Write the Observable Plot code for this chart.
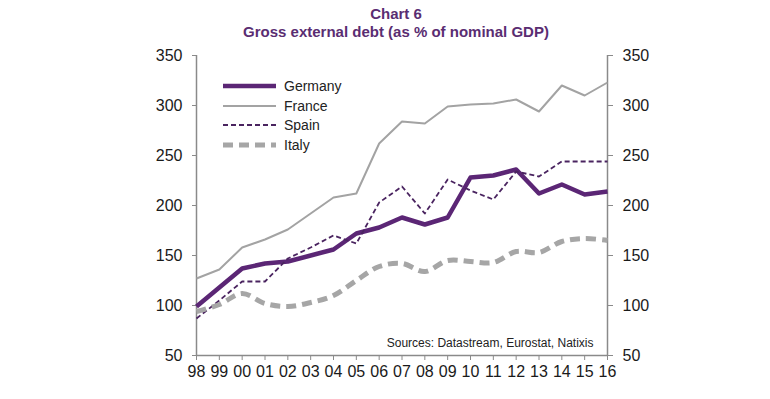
<!DOCTYPE html>
<html>
<head>
<meta charset="utf-8">
<script src="https://cdn.jsdelivr.net/npm/d3@7"></script>
<script src="https://cdn.jsdelivr.net/npm/@observablehq/plot@0.6"></script>
<style>
  html, body { margin: 0; padding: 0; background: #fff; }
  #wrap { position: relative; width: 770px; height: 399px; font-family: "Liberation Sans", Arial, sans-serif; }
  #title { position: absolute; left: 0; width: 792px; top: 5px; text-align: center; color: #5a2d72; font-weight: bold; font-size: 15px; line-height: 18px; }
  #legend { position: absolute; left: 223px; top: 76px; }
  .li { display: flex; align-items: center; height: 19.7px; font-size: 14px; color: #222; }
  .li svg { margin-right: 8px; }
  #chart { position: absolute; left: 0; top: 0; }
</style>
</head>
<body>
<div id="wrap">
  <div id="chart"></div>
  <div id="title">Chart 6<br>Gross external debt (as % of nominal GDP)</div>
  <div id="legend"></div>
</div>
<script>
const years = ["98","99","00","01","02","03","04","05","06","07","08","09","10","11","12","13","14","15","16"];
const germany = [99,118,137,142,144,150,156,172,178,188,181,188,228,230,236,212,221,211,214];
const france  = [127,136,158,166,176,192,208,212,262,284,282,299,301,302,306,294,320,310,323];
const spain   = [87,105,124,124,147,158,170,162,203,219,192,226,215,206,234,229,244,244,244];
const italy   = [94,101,112,102,99,103,110,125,139,142,134,145,144,143,154,153,164,167,165];
const yTicks = [50,100,150,200,250,300,350];
const seriesNames = ["Germany","France","Spain","Italy"];
const sourceText = "Sources: Datastream, Eurostat, Natixis";

const styles = {
  Germany: {stroke: "#5b2675", strokeWidth: 4.5, dash: null, curve: "linear"},
  France:  {stroke: "#a3a3a3", strokeWidth: 2, dash: null, curve: "linear"},
  Spain:   {stroke: "#4a2460", strokeWidth: 1.8, dash: "5,3", curve: "linear"},
  Italy:   {stroke: "#a6a6a6", strokeWidth: 5, dash: "10,6", curve: "catmull-rom"}
};
const seriesData = {Germany: germany, France: france, Spain: spain, Italy: italy};
const idx = years.map((_, i) => i);

const lineMarks = seriesNames.map(name => {
  const data = years.map((y, i) => ({i, value: seriesData[name][i]}));
  const s = styles[name];
  return Plot.line(data, {x: "i", y: "value", stroke: s.stroke, strokeWidth: s.strokeWidth,
    strokeDasharray: s.dash, curve: s.curve, strokeLinejoin: "round", strokeLinecap: "butt"});
});

const axisColor = "#8a8a8a";
const plot = Plot.plot({
  width: 770,
  height: 399,
  marginTop: 55,
  marginBottom: 44,
  marginLeft: 196,
  marginRight: 163,
  style: {fontFamily: "'Liberation Sans', Arial, sans-serif", fontSize: "16px", color: "#1a1a1a", background: "transparent"},
  x: {type: "linear", domain: [0, years.length - 1]},
  y: {domain: [50, 350]},
  marks: [
    Plot.axisY({anchor: "left", ticks: yTicks, tickSize: 4, tickPadding: 10, label: null, stroke: axisColor, fill: "#1a1a1a", fontSize: 16}),
    Plot.axisY({anchor: "right", ticks: yTicks, tickSize: 5, tickPadding: 10, label: null, stroke: axisColor, fill: "#1a1a1a", fontSize: 16}),
    Plot.axisX({anchor: "bottom", ticks: idx, tickFormat: i => years[i], tickSize: 5, tickPadding: 5, label: null, stroke: axisColor, fill: "#1a1a1a", fontSize: 16}),
    Plot.ruleX([0], {stroke: axisColor, strokeWidth: 1.5}),
    Plot.ruleX([years.length - 1], {stroke: axisColor, strokeWidth: 1.5}),
    Plot.ruleY([50], {stroke: axisColor, strokeWidth: 1.5}),
    ...lineMarks,
    Plot.text([sourceText], {frameAnchor: "bottom-right", dx: -14, dy: -9, fontSize: 12, fill: "#222", text: d => d})
  ]
});
document.getElementById("chart").appendChild(plot);

const legend = document.getElementById("legend");
seriesNames.forEach(name => {
  const s = styles[name];
  const row = document.createElement("div");
  row.className = "li";
  row.innerHTML = `<svg width="53" height="8"><line x1="0" x2="53" y1="4" y2="4" stroke="${s.stroke}" stroke-width="${s.strokeWidth}" ${s.dash ? `stroke-dasharray="${s.dash}"` : ""}/></svg><span>${name}</span>`;
  legend.appendChild(row);
});
</script>
</body>
</html>
